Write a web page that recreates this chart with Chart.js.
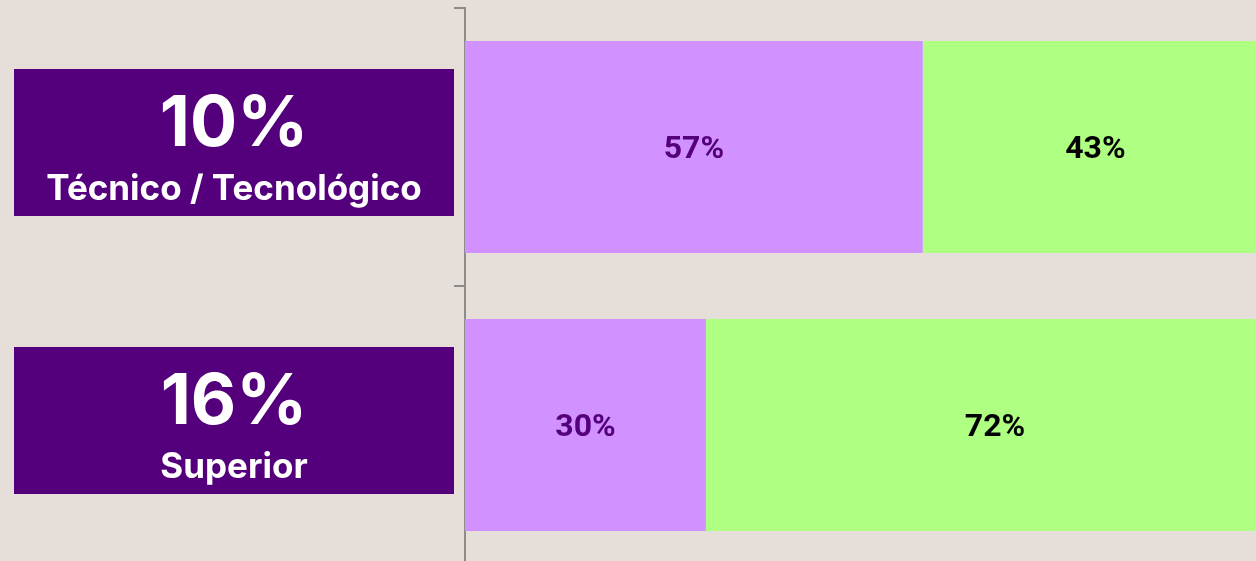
<!DOCTYPE html>
<html>
<head>
<meta charset="utf-8">
<script src="https://cdn.jsdelivr.net/npm/chart.js@4/dist/chart.umd.min.js"></script>
<style>
  html, body { margin: 0; padding: 0; background: #e6dfd9; overflow: hidden; }
  #wrap { position: relative; width: 1256px; height: 564px; }
</style>
</head>
<body>
<div id="wrap"><canvas id="levelChart"></canvas></div>
<script>
// datos
const categories = ['Técnico / Tecnológico', 'Superior'];
const shares = [10, 16];
const purpleValues = [57, 30];
const greenValues = [43, 72];

const DARK_PURPLE = '#54007c';

// cajas moradas a la izquierda, una por categoría
const leftBoxes = {
    id: 'leftBoxes',
    afterDraw(chart) {
        const ctx = chart.ctx;
        const yScale = chart.scales.y;
        ctx.save();
        categories.forEach((name, i) => {
            const cy = yScale.getPixelForValue(i) - 4.5;
            const top = cy - 73.5;
            ctx.fillStyle = DARK_PURPLE;
            ctx.fillRect(14, top, 440, 147);
            ctx.fillStyle = '#ffffff';
            ctx.textAlign = 'center';
            ctx.textBaseline = 'alphabetic';
            ctx.font = '700 70px Inter';
            ctx.fillText(shares[i] + '%', 234, top + 77);
            ctx.font = '700 35px Inter';
            ctx.fillText(name, 234, top + 131);
        });
        ctx.restore();
    }
};

// etiquetas de valor en el centro de cada segmento
const barLabels = {
    id: 'barLabels',
    afterDatasetsDraw(chart) {
        const ctx = chart.ctx;
        ctx.save();
        ctx.font = 'bold 32px Roboto';
        ctx.textAlign = 'center';
        ctx.textBaseline = 'middle';
        chart.data.datasets.forEach((ds, di) => {
            chart.getDatasetMeta(di).data.forEach((bar, i) => {
                ctx.fillStyle = ds.labelColor;
                ctx.fillText(ds.data[i] + '%', (bar.x + bar.base) / 2, bar.y + 3);
            });
        });
        ctx.restore();
    }
};

const ctx = document.getElementById('levelChart').getContext('2d');
new Chart(ctx, {
    type: 'bar',
    data: {
        labels: categories,
        datasets: [
            { data: purpleValues, backgroundColor: '#d191ff', labelColor: DARK_PURPLE, borderWidth: 0 },
            { data: greenValues, backgroundColor: '#aeff82', labelColor: '#000000', borderWidth: 0 }
        ]
    },
    options: {
        indexAxis: 'y',
        responsive: true,
        maintainAspectRatio: false,
        animation: false,
        layout: { padding: { left: 454, top: 8, right: 0, bottom: 0 } },
        datasets: { bar: { barPercentage: 0.763, categoryPercentage: 1 } },
        scales: {
            x: { stacked: true, display: false, min: 0, max: 98.5 },
            y: {
                stacked: true,
                ticks: { display: false },
                grid: { offset: true, drawOnChartArea: false, color: '#8c8c8c', lineWidth: 2, tickLength: 11 },
                border: { color: '#8c8c8c', width: 2 }
            }
        },
        plugins: {
            legend: { display: false },
            tooltip: { enabled: false }
        }
    },
    plugins: [leftBoxes, barLabels]
});
</script>
</body>
</html>
